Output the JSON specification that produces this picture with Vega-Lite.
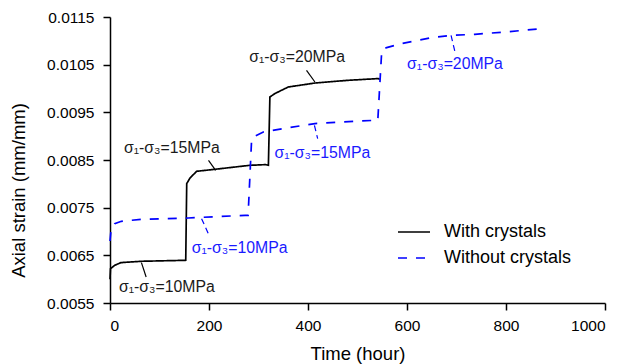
{
  "$schema": "https://vega.github.io/schema/vega-lite/v6.json",
  "width": 495,
  "height": 286,
  "autosize": {"type": "none"},
  "padding": {"left": 110, "top": 17, "right": 19, "bottom": 61},
  "background": "white",
  "config": {
    "font": "Liberation Sans",
    "view": {"stroke": null},
    "axis": {
      "domainColor": "black", "domainWidth": 1.5, "tickColor": "black", "tickWidth": 1.5, "tickSize": 7,
      "labelColor": "black", "labelFontSize": 15.5, "labelFont": "Liberation Sans",
      "titleColor": "black", "titleFontSize": 18.5, "titleFontWeight": "normal", "titleFont": "Liberation Sans",
      "grid": false
    }
  },
  "datasets": {
    "lines": [
      {"series": "With crystals", "hour": 0, "strain": 0.00600},
      {"series": "With crystals", "hour": 1, "strain": 0.00622},
      {"series": "With crystals", "hour": 9.5, "strain": 0.00629},
      {"series": "With crystals", "hour": 22, "strain": 0.006347},
      {"series": "With crystals", "hour": 63, "strain": 0.006375},
      {"series": "With crystals", "hour": 153, "strain": 0.006396},
      {"series": "With crystals", "hour": 155, "strain": 0.008005},
      {"series": "With crystals", "hour": 161.6, "strain": 0.008122},
      {"series": "With crystals", "hour": 175, "strain": 0.008263},
      {"series": "With crystals", "hour": 212, "strain": 0.008305},
      {"series": "With crystals", "hour": 283, "strain": 0.008389},
      {"series": "With crystals", "hour": 314.5, "strain": 0.008403},
      {"series": "With crystals", "hour": 320, "strain": 0.008389},
      {"series": "With crystals", "hour": 323, "strain": 0.009822},
      {"series": "With crystals", "hour": 333, "strain": 0.009893},
      {"series": "With crystals", "hour": 360, "strain": 0.010031},
      {"series": "With crystals", "hour": 414, "strain": 0.010115},
      {"series": "With crystals", "hour": 481, "strain": 0.010172},
      {"series": "With crystals", "hour": 542, "strain": 0.010208},
      {"series": "With crystals", "hour": 545, "strain": 0.01019},
      {"series": "Without crystals", "hour": 0, "strain": 0.0068},
      {"series": "Without crystals", "hour": 2, "strain": 0.007025},
      {"series": "Without crystals", "hour": 9.5, "strain": 0.007166},
      {"series": "Without crystals", "hour": 23, "strain": 0.007214},
      {"series": "Without crystals", "hour": 63, "strain": 0.007256},
      {"series": "Without crystals", "hour": 158, "strain": 0.007283},
      {"series": "Without crystals", "hour": 273, "strain": 0.00734},
      {"series": "Without crystals", "hour": 279, "strain": 0.00734},
      {"series": "Without crystals", "hour": 286, "strain": 0.008913},
      {"series": "Without crystals", "hour": 289.5, "strain": 0.008982},
      {"series": "Without crystals", "hour": 309.7, "strain": 0.009087},
      {"series": "Without crystals", "hour": 350, "strain": 0.009159},
      {"series": "Without crystals", "hour": 414, "strain": 0.009264},
      {"series": "Without crystals", "hour": 468, "strain": 0.009297},
      {"series": "Without crystals", "hour": 535, "strain": 0.009333},
      {"series": "Without crystals", "hour": 541, "strain": 0.00933},
      {"series": "Without crystals", "hour": 549, "strain": 0.010801},
      {"series": "Without crystals", "hour": 559, "strain": 0.010858},
      {"series": "Without crystals", "hour": 589, "strain": 0.010942},
      {"series": "Without crystals", "hour": 650, "strain": 0.011068},
      {"series": "Without crystals", "hour": 690, "strain": 0.011116},
      {"series": "Without crystals", "hour": 737, "strain": 0.011137},
      {"series": "Without crystals", "hour": 798, "strain": 0.011185},
      {"series": "Without crystals", "hour": 872, "strain": 0.011257}
    ],
    "labels": [
      {"series": "With crystals", "hour": 115, "strain": 0.005829, "label": "σ₁-σ₃=10MPa"},
      {"series": "With crystals", "hour": 125, "strain": 0.008745, "label": "σ₁-σ₃=15MPa"},
      {"series": "With crystals", "hour": 378, "strain": 0.01066, "label": "σ₁-σ₃=20MPa"},
      {"series": "Without crystals", "hour": 262, "strain": 0.006654, "label": "σ₁-σ₃=10MPa"},
      {"series": "Without crystals", "hour": 429, "strain": 0.00864, "label": "σ₁-σ₃=15MPa"},
      {"series": "Without crystals", "hour": 697, "strain": 0.01051, "label": "σ₁-σ₃=20MPa"}
    ],
    "leaders": [
      {"series": "With crystals", "hour": 63.5, "strain": 0.006347, "hour2": 73, "strain2": 0.006045},
      {"series": "With crystals", "hour": 199, "strain": 0.008494, "hour2": 213.5, "strain2": 0.008284},
      {"series": "With crystals", "hour": 397, "strain": 0.010382, "hour2": 414, "strain2": 0.010136},
      {"series": "Without crystals", "hour": 185, "strain": 0.00727, "hour2": 198.6, "strain2": 0.006956},
      {"series": "Without crystals", "hour": 413, "strain": 0.009228, "hour2": 419.5, "strain2": 0.008949},
      {"series": "Without crystals", "hour": 689, "strain": 0.011116, "hour2": 697, "strain2": 0.010766}
    ]
  },
  "encoding": {
    "x": {"field": "hour", "type": "quantitative",
      "scale": {"domain": [0, 1000], "nice": false, "zero": false},
      "axis": {"title": "Time (hour)", "values": [0, 200, 400, 600, 800, 1000], "format": "d", "labelPadding": 8, "titleY": 50, "titleBaseline": "middle"}},
    "y": {"field": "strain", "type": "quantitative",
      "scale": {"domain": [0.0055, 0.0115], "nice": false, "zero": false},
      "axis": {"title": "Axial strain (mm/mm)", "values": [0.0055, 0.0065, 0.0075, 0.0085, 0.0095, 0.0105, 0.0115], "format": ".4f", "labelPadding": 9, "titleX": -91.5, "titleY": 173, "titleBaseline": "middle"}}
  },
  "layer": [
    {
      "data": {"name": "lines"},
      "mark": {"type": "line", "strokeWidth": 1.7, "interpolate": "linear"},
      "encoding": {
        "color": {"field": "series", "type": "nominal",
          "scale": {"domain": ["With crystals", "Without crystals"], "range": ["#000000", "#0000ff"]},
          "legend": {"title": null, "orient": "none", "legendX": 287, "legendY": 198, "symbolType": "stroke", "symbolSize": 1024, "symbolStrokeWidth": 1.7, "labelFontSize": 18, "labelColor": "black", "labelOffset": 13, "rowPadding": 0, "padding": 0}},
        "strokeDash": {"field": "series", "type": "nominal",
          "scale": {"domain": ["With crystals", "Without crystals"], "range": [[1, 0], [9, 9]]},
          "legend": {"title": null, "orient": "none", "legendX": 287, "legendY": 198, "symbolType": "stroke", "symbolSize": 1024, "symbolStrokeWidth": 1.7, "labelFontSize": 18, "labelColor": "black", "labelOffset": 13, "rowPadding": 0, "padding": 0}}
      }
    },
    {
      "data": {"name": "leaders"},
      "transform": [{"filter": "datum.series === 'With crystals'"}],
      "mark": {"type": "rule", "color": "#000000", "strokeWidth": 1.2},
      "encoding": {"x2": {"field": "hour2"}, "y2": {"field": "strain2"}}
    },
    {
      "data": {"name": "leaders"},
      "transform": [{"filter": "datum.series === 'Without crystals'"}],
      "mark": {"type": "rule", "color": "#0000ff", "strokeWidth": 1.2, "strokeDash": [6, 4]},
      "encoding": {"x2": {"field": "hour2"}, "y2": {"field": "strain2"}}
    },
    {
      "data": {"name": "labels"},
      "transform": [{"filter": "datum.series === 'With crystals'"}],
      "mark": {"type": "text", "color": "#1a1a1a", "fontSize": 15.8, "align": "center", "baseline": "middle"},
      "encoding": {"text": {"field": "label"}}
    },
    {
      "data": {"name": "labels"},
      "transform": [{"filter": "datum.series === 'Without crystals'"}],
      "mark": {"type": "text", "color": "#1a1aff", "fontSize": 15.8, "align": "center", "baseline": "middle"},
      "encoding": {"text": {"field": "label"}}
    }
  ]
}
